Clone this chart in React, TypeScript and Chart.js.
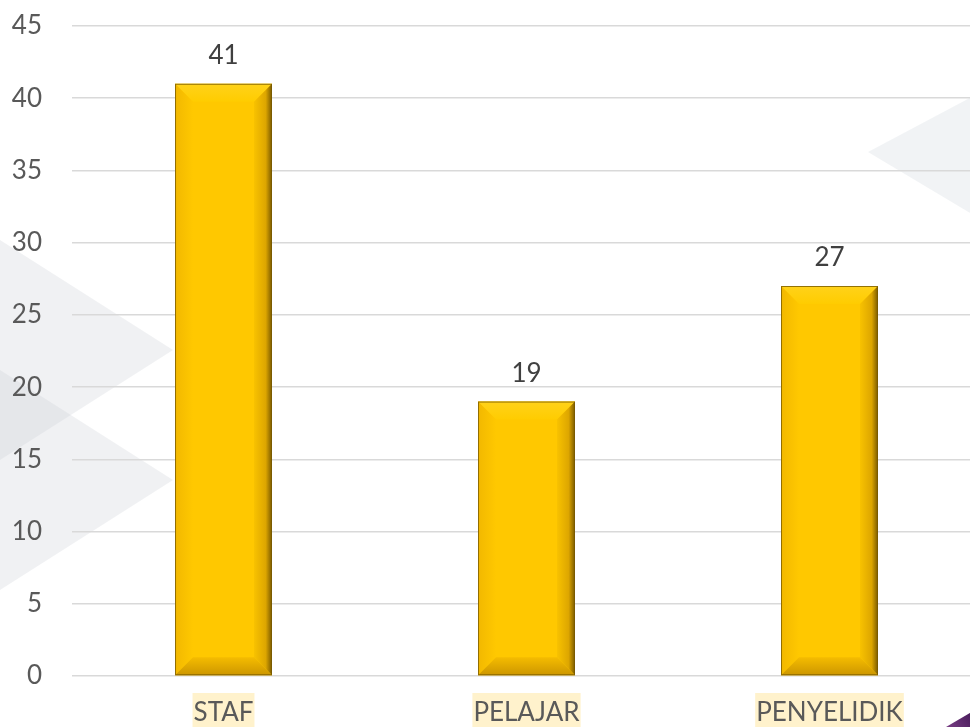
import React, { useEffect, useRef } from "react";
import { Chart, registerables } from "chart.js";

Chart.register(...registerables);

const categories = ["STAF", "PELAJAR", "PENYELIDIK"];
const values = [41, 19, 27];
const yMin = 0;
const yMax = 45;
const yStep = 5;

const FONT = "Lato";
const TEXT = "#595959";
const FS = 26;

const backgroundPlugin = {
  id: "bgDecor",
  beforeDraw(chart: any) {
    const ctx = chart.ctx;
    ctx.save();
    ctx.fillStyle = "#ffffff";
    ctx.fillRect(0, 0, chart.width, chart.height);
    ctx.fillStyle = "rgba(205,210,216,0.3)";
    const tri = (pts: number[][]) => {
      ctx.beginPath();
      ctx.moveTo(pts[0][0], pts[0][1]);
      for (let i = 1; i < pts.length; i++) ctx.lineTo(pts[i][0], pts[i][1]);
      ctx.closePath();
      ctx.fill();
    };
    tri([[0, 240], [173, 350], [0, 460]]);
    tri([[0, 370], [173, 480], [0, 590]]);
    ctx.fillStyle = "rgba(215,220,226,0.35)";
    tri([[985, 90], [868, 152], [985, 222]]);
    const g = ctx.createLinearGradient(945, 727, 970, 712);
    g.addColorStop(0, "#7a3f86");
    g.addColorStop(1, "#4a1d5c");
    ctx.fillStyle = g;
    tri([[946, 727], [975, 710], [975, 727]]);
    const xs = chart.scales.x;
    ctx.font = `${FS}px ${FONT}`;
    ctx.fillStyle = "#FFF2CC";
    categories.forEach((c, i) => {
      const px = xs.getPixelForTick(i);
      const w = ctx.measureText(c).width + 2;
      ctx.fillRect(px - w / 2, xs.top + 17, w, chart.height - xs.top - 17);
    });
    ctx.restore();
  },
};

const bevelPlugin = {
  id: "bevel",
  afterDatasetsDraw(chart: any) {
    const ctx = chart.ctx;
    const meta = chart.getDatasetMeta(0);
    ctx.save();
    meta.data.forEach((bar: any, i: number) => {
      const { x, y, base, width } = bar.getProps(["x", "y", "base", "width"], true);
      const l = x - width / 2;
      const r = x + width / 2;
      const t = y;
      const b = base;
      const bv = 18;
      const poly = (pts: number[][], fill: any) => {
        ctx.beginPath();
        ctx.moveTo(pts[0][0], pts[0][1]);
        for (let k = 1; k < pts.length; k++) ctx.lineTo(pts[k][0], pts[k][1]);
        ctx.closePath();
        ctx.fillStyle = fill;
        ctx.fill();
      };
      const gt = ctx.createLinearGradient(0, t, 0, t + bv);
      gt.addColorStop(0, "#FFD21A");
      gt.addColorStop(1, "#FFCC00");
      poly([[l, t], [r, t], [r - bv, t + bv], [l + bv, t + bv]], gt);
      const gl = ctx.createLinearGradient(l, 0, l + bv, 0);
      gl.addColorStop(0, "#F2B800");
      gl.addColorStop(1, "#FFC800");
      poly([[l, t], [l + bv, t + bv], [l + bv, b - bv], [l, b]], gl);
      const gr = ctx.createLinearGradient(r - bv, 0, r, 0);
      gr.addColorStop(0, "#F8C200");
      gr.addColorStop(0.65, "#DDA600");
      gr.addColorStop(1, "#7A5A00");
      poly([[r, t], [r, b], [r - bv, b - bv], [r - bv, t + bv]], gr);
      const gb = ctx.createLinearGradient(0, b - bv, 0, b);
      gb.addColorStop(0, "#F5BC00");
      gb.addColorStop(1, "#CC9600");
      poly([[l, b], [l + bv, b - bv], [r - bv, b - bv], [r, b]], gb);
      ctx.strokeStyle = "rgba(120,90,0,0.8)";
      ctx.lineWidth = 1;
      ctx.strokeRect(l + 0.5, t + 0.5, width - 1, b - t - 1);
      ctx.font = `${FS}px ${FONT}`;
      ctx.fillStyle = "#404040";
      ctx.textAlign = "center";
      ctx.textBaseline = "middle";
      ctx.fillText(String(values[i]), x, t - 28);
    });
    ctx.restore();
  },
};

export default function App() {
  const ref = useRef<HTMLCanvasElement | null>(null);
  useEffect(() => {
    if (!ref.current) return;
    const chart = new Chart(ref.current, {
      type: "bar",
      data: {
        labels: categories,
        datasets: [
          {
            data: values,
            backgroundColor: "#FFC800",
            borderWidth: 0,
            categoryPercentage: 1,
            barPercentage: 0.32,
          },
        ],
      },
      options: {
        responsive: false,
        animation: false,
        devicePixelRatio: 1,
        layout: { padding: { top: 26, left: 0, right: 0, bottom: 0 } },
        plugins: { legend: { display: false }, tooltip: { enabled: false } },
        scales: {
          x: {
            grid: { display: false, drawTicks: false },
            border: { display: false },
            ticks: { color: TEXT, font: { family: FONT, size: FS }, padding: 21 },
            afterFit: (s: any) => {
              s.height = 51;
            },
          },
          y: {
            min: yMin,
            max: yMax,
            ticks: { stepSize: yStep, color: TEXT, font: { family: FONT, size: FS }, padding: 30 },
            grid: { color: "#D9D9D9", lineWidth: 1.5, drawTicks: false },
            border: { display: false },
            afterFit: (s: any) => {
              s.width = 72;
              s.paddingTop = 0;
              s.paddingBottom = 0;
            },
          },
        },
      },
      plugins: [backgroundPlugin, bevelPlugin],
    } as any);
    return () => chart.destroy();
  }, []);
  return (
    <div style={{ position: "fixed", left: 0, top: 0, width: 970, height: 727, overflow: "hidden", background: "#fff" }}>
      <canvas ref={ref} width={981} height={727} style={{ display: "block", width: 981, height: 727 }} />
    </div>
  );
}
